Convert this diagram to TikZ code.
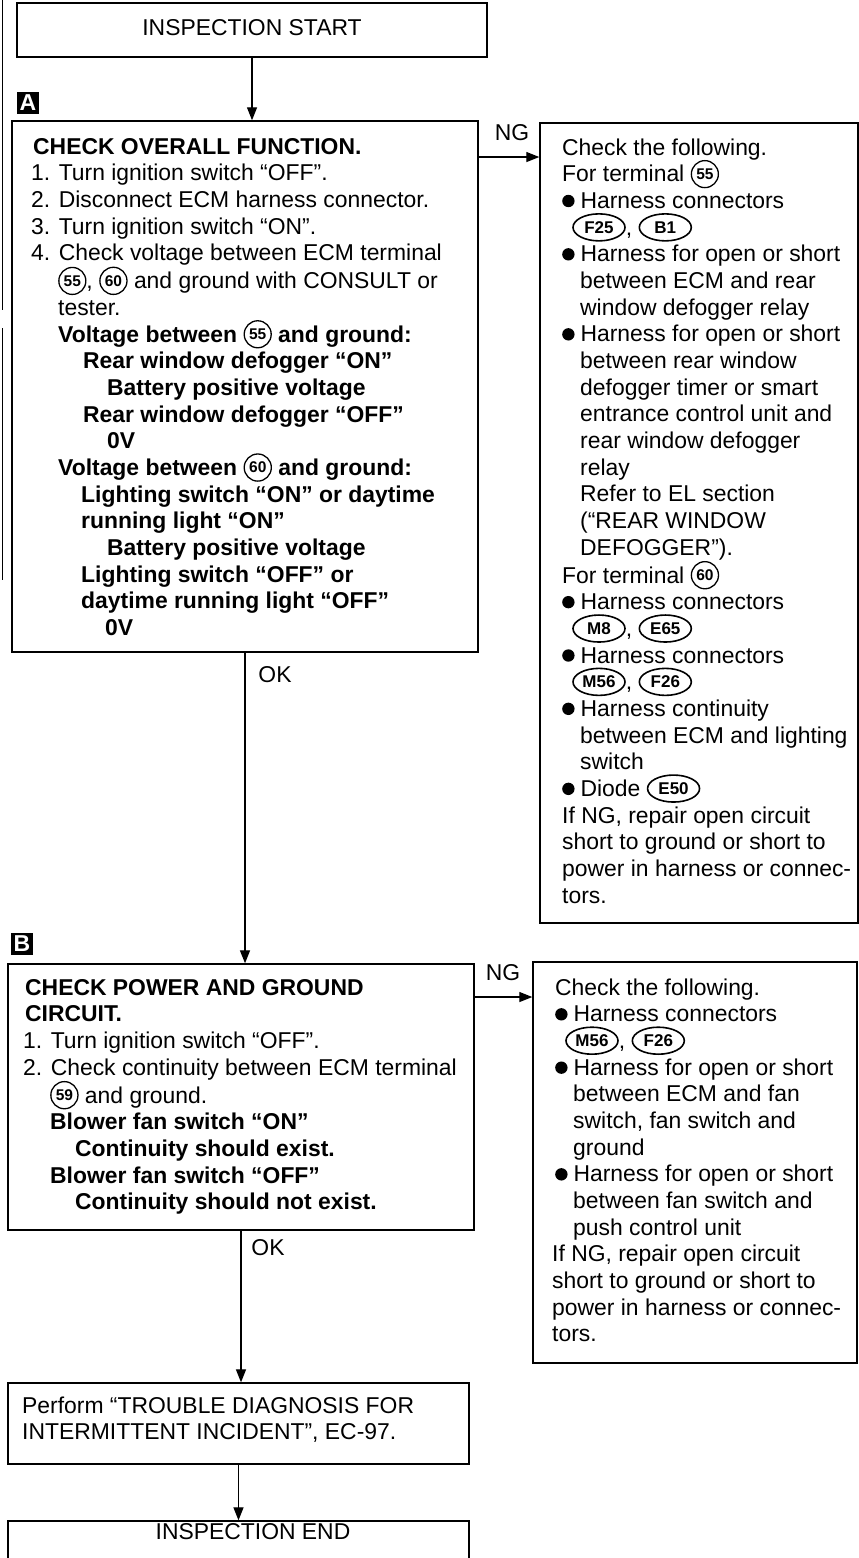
\documentclass[tikz,border=0pt]{standalone}
\usepackage{fontspec}
\setmainfont{Liberation Sans}
\usetikzlibrary{arrows.meta,shapes.geometric,calc}
\newcommand\cn[1]{\tikz[baseline={([yshift=-2.5pt]cn.base)}]\node[circle,draw,line width=1.3pt,inner sep=2.4pt,anchor=base,font=\bfseries\fontsize{15.5}{15.5}\selectfont](cn){#1};}
\newcommand\oc[1]{\tikz[baseline={([yshift=-2pt]oc.base)}]\node[ellipse,draw,line width=1.6pt,inner xsep=1pt,inner ysep=1pt,minimum height=27pt,minimum width=52pt,anchor=base,font=\bfseries\fontsize{17}{17}\selectfont](oc){#1};}
\newcommand\bul{\tikz[baseline=0pt]\fill (0pt,0.33em) circle (0.27em);}
\newcommand\ind[1]{\hspace*{#1pt}}
\newcommand\fst{\rule{0pt}{20pt}}
\tikzset{
  box/.style={draw,line width=1.4pt,rectangle,inner sep=0pt},
  txt/.style={anchor=north west,inner sep=0pt,align=left,font=\fontsize{22.9}{26.67}\selectfont},
  lbl/.style={inner sep=0pt,anchor=base,font=\fontsize{22.9}{26.67}\selectfont},
  arr/.style={line width=1.3pt,-{Triangle[length=13pt,width=10pt]}},
  marker/.style={fill=black,text=white,inner sep=0pt,minimum size=22pt,font=\bfseries\fontsize{23}{23}\selectfont},
  scan/.style={line width=0.8pt}
}
\begin{document}
\begin{tikzpicture}[x=1pt,y={(0pt,-1pt)}]
\useasboundingbox (0,0) rectangle (859,1558);
\clip (0,0) rectangle (859,1558);
% scan edge lines
\draw[scan] (2,0) -- (2,310);
\draw[scan] (2,328) -- (2,580);
% boxes
\node[box,minimum width=470pt,minimum height=54pt] (start) at (252,30) {};
\node[box,minimum width=466pt,minimum height=531pt] (A) at (245,386.5) {};
\node[box,minimum width=318pt,minimum height=800pt] (R1) at (699,523) {};
\node[box,minimum width=466pt,minimum height=266pt] (B) at (241,1097) {};
\node[box,minimum width=324pt,minimum height=401pt] (R2) at (695,1162.5) {};
\node[box,minimum width=461pt,minimum height=81pt] (P) at (238.5,1423.5) {};
\node[box,minimum width=461pt,minimum height=79pt] (E) at (238.5,1560.5) {};
% markers
\node[marker] (mA) at (28,103) {A};
\node[marker] (mB) at (22,944) {B};
% texts
\node[lbl] (tstart) at (252,35) {INSPECTION START};
\node[lbl] (tend) at (253,1539) {INSPECTION END};
\node[txt] (tA) at (31,134) {\fst\ind{2}\textbf{CHECK OVERALL FUNCTION.}\\
1. Turn ignition switch “OFF”.\\
2. Disconnect ECM harness connector.\\
3. Turn ignition switch “ON”.\\
4. Check voltage between ECM terminal\\
\ind{27}\cn{55}, \cn{60} and ground with CONSULT or\\
\ind{27}tester.\\
\ind{27}\textbf{Voltage between \cn{55} and ground:}\\
\ind{52}\textbf{Rear window defogger “ON”}\\
\ind{76}\textbf{Battery positive voltage}\\
\ind{52}\textbf{Rear window defogger “OFF”}\\
\ind{76}\textbf{0V}\\
\ind{27}\textbf{Voltage between \cn{60} and ground:}\\
\ind{50}\textbf{Lighting switch “ON” or daytime}\\
\ind{50}\textbf{running light “ON”}\\
\ind{76}\textbf{Battery positive voltage}\\
\ind{50}\textbf{Lighting switch “OFF” or}\\
\ind{50}\textbf{daytime running light “OFF”}\\
\ind{74}\textbf{0V}};
\node[txt] (tR1) at (562,135) {\fst Check the following.\\
For terminal \cn{55}\\
\bul\hspace{6pt}Harness connectors\\
\ind{10}\oc{F25}, \oc{B1}\\
\bul\hspace{6pt}Harness for open or short\\
\ind{18}between ECM and rear\\
\ind{18}window defogger relay\\
\bul\hspace{6pt}Harness for open or short\\
\ind{18}between rear window\\
\ind{18}defogger timer or smart\\
\ind{18}entrance control unit and\\
\ind{18}rear window defogger\\
\ind{18}relay\\
\ind{18}Refer to EL section\\
\ind{18}(“REAR WINDOW\\
\ind{18}DEFOGGER”).\\
For terminal \cn{60}\\
\bul\hspace{6pt}Harness connectors\\
\ind{10}\oc{M8}, \oc{E65}\\
\bul\hspace{6pt}Harness connectors\\
\ind{10}\oc{M56}, \oc{F26}\\
\bul\hspace{6pt}Harness continuity\\
\ind{18}between ECM and lighting\\
\ind{18}switch\\
\bul\hspace{6pt}Diode \oc{E50}\\
If NG, repair open circuit\\
short to ground or short to\\
power in harness or connec-\\
tors.};
\node[txt] (tB) at (23,975) {\fst\ind{2}\textbf{CHECK POWER AND GROUND}\\
\ind{2}\textbf{CIRCUIT.}\\
1. Turn ignition switch “OFF”.\\
2. Check continuity between ECM terminal\\
\ind{27}\cn{59} and ground.\\
\ind{27}\textbf{Blower fan switch “ON”}\\
\ind{52}\textbf{Continuity should exist.}\\
\ind{27}\textbf{Blower fan switch “OFF”}\\
\ind{52}\textbf{Continuity should not exist.}};
\node[txt] (tR2) at (552,975) {\fst\ind{3}Check the following.\\
\ind{3}\bul\hspace{6pt}Harness connectors\\
\ind{13}\oc{M56}, \oc{F26}\\
\ind{3}\bul\hspace{6pt}Harness for open or short\\
\ind{21}between ECM and fan\\
\ind{21}switch, fan switch and\\
\ind{21}ground\\
\ind{3}\bul\hspace{6pt}Harness for open or short\\
\ind{21}between fan switch and\\
\ind{21}push control unit\\
If NG, repair open circuit\\
short to ground or short to\\
power in harness or connec-\\
tors.};
\node[txt] (tP) at (22,1393) {\fst Perform “TROUBLE DIAGNOSIS FOR\\
INTERMITTENT INCIDENT”, EC-97.};
% labels
\node[lbl] (ng1) at (512,140) {NG};
\node[lbl] (ok1) at (275,682) {OK};
\node[lbl] (ng2) at (503,980) {NG};
\node[lbl] (ok2) at (268,1255) {OK};
% connectors
\coordinate (yA) at (0,157);
\coordinate (yB) at (0,997);
\draw[arr] (start.south) -- (start.south |- A.north);
\draw[arr] (A.south) -- (A.south |- B.north);
\draw[arr] (B.south) -- (B.south |- P.north);
\draw[arr] (P.south) -- (P.south |- E.north);
\draw[arr] (A.east |- yA) -- (R1.west |- yA);
\draw[arr] (B.east |- yB) -- (R2.west |- yB);
\end{tikzpicture}
\end{document}
